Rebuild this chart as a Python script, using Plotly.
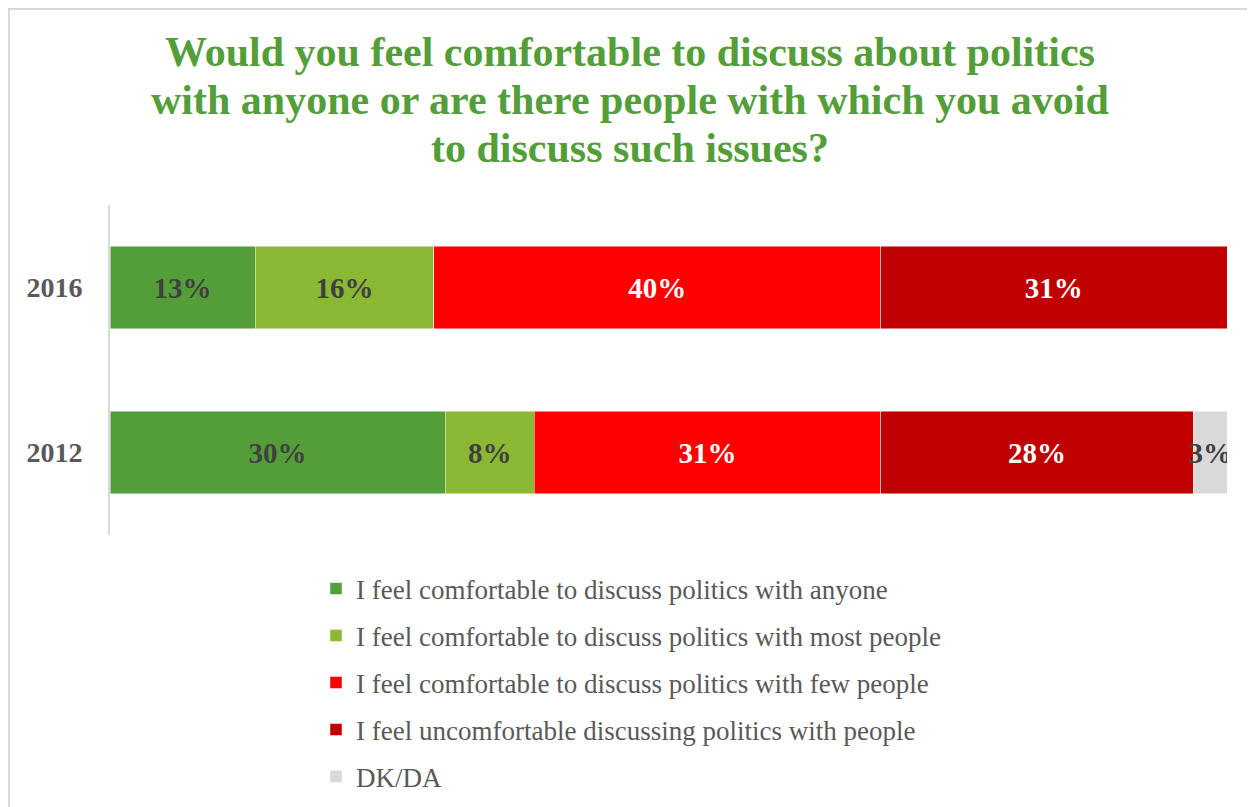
import plotly.graph_objects as go

years = ["2016", "2012"]
series_names = [
    "I feel comfortable to discuss politics with anyone",
    "I feel comfortable to discuss politics with most people",
    "I feel comfortable to discuss politics with few people",
    "I feel uncomfortable discussing politics with people",
    "DK/DA",
]
anyone = [13, 30]
most_people = [16, 8]
few_people = [40, 31]
uncomfortable = [31, 28]
dkda = [None, 3]

title_lines = [
    "Would you feel comfortable to discuss about politics",
    "with anyone or are there people with which you avoid",
    "to discuss such issues?",
]

series_values = [anyone, most_people, few_people, uncomfortable, dkda]
colors = ["#549E39", "#8AB833", "#FF0000", "#C00000", "#D9D9D9"]
label_colors = ["#404040", "#404040", "#FFFFFF", "#FFFFFF", "#404040"]

# page offset (body margin) compensation
OX, OY = 8, 8
W, H = 1255 - OX, 807 - OY
L, R, T, B = 110 - OX, 28, 205 - OY, 272
plot_w = W - L - R
plot_h = H - T - B

FONT = "Liberation Serif"


def px_x(px):
    return (px - OX - L) / plot_w


def px_y(py):
    return (H - B - (py - OY)) / plot_h


fig = go.Figure()
legend_ys = [589, 636, 683, 730, 777]
for i, (name, vals) in enumerate(zip(series_names, series_values)):
    lid = "legend" if i == 0 else f"legend{i+1}"
    fig.add_trace(go.Bar(
        y=years, x=vals, name=name, orientation="h",
        marker=dict(color=colors[i], line=dict(color="rgba(255,255,255,0.6)", width=0.8)),
        texttemplate="%{x}%", textposition="inside", insidetextanchor="middle",
        constraintext="none", textangle=0,
        textfont=dict(family=FONT, size=29, color=label_colors[i], weight="bold"),
        legend=lid, hoverinfo="skip",
    ))

layout_legends = {}
for i, py in enumerate(legend_ys):
    lid = "legend" if i == 0 else f"legend{i+1}"
    layout_legends[lid] = dict(
        x=px_x(316), xanchor="left",
        y=px_y(py), yanchor="middle",
        font=dict(family=FONT, size=27, color="#595959"),
        bgcolor="rgba(0,0,0,0)", borderwidth=0,
    )

annotations = []
for line, py in zip(title_lines, [52, 100, 148]):
    annotations.append(dict(
        text=line, xref="paper", yref="paper",
        x=px_x(630), y=px_y(py), xanchor="center", yanchor="middle",
        showarrow=False,
        font=dict(family=FONT, size=42, color="#549E39", weight="bold"),
    ))

fig.update_layout(
    width=W, height=H,
    barmode="stack", bargap=0.5,
    margin=dict(l=L, r=R, t=T, b=B, autoexpand=False),
    plot_bgcolor="white", paper_bgcolor="white",
    xaxis=dict(range=[0, 100], visible=False),
    yaxis=dict(
        type="category", categoryorder="array", categoryarray=years,
        autorange="reversed",
        showline=True, linecolor="#D9D9D9", linewidth=2,
        showgrid=False, zeroline=False, ticks="",
        ticklabelstandoff=20,
        tickfont=dict(family=FONT, size=28, color="#595959", weight="bold"),
    ),
    showlegend=True,
    annotations=annotations,
    shapes=[dict(
        type="rect", xref="paper", yref="paper",
        x0=px_x(9), x1=px_x(1300),
        y0=px_y(850), y1=px_y(9),
        line=dict(color="#D9D9D9", width=2), fillcolor="rgba(0,0,0,0)", layer="below",
    )],
    **layout_legends,
)

fig.write_html("out.html")
